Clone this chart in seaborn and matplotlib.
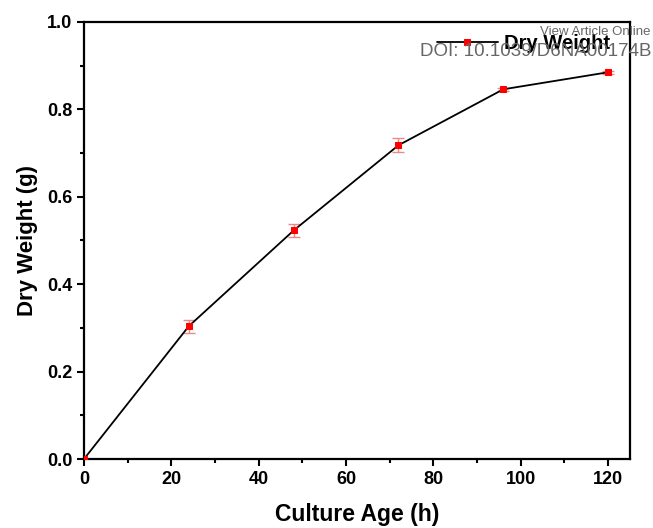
import matplotlib
matplotlib.use("Agg")
import matplotlib.pyplot as plt
import seaborn as sns
import pandas as pd
from matplotlib.ticker import MultipleLocator

culture_age = [0, 24, 48, 72, 96, 120]
dry_weight = [0.0, 0.304, 0.523, 0.718, 0.846, 0.885]
errors = [0.0, 0.015, 0.015, 0.016, 0.004, 0.004]

sns.set_theme(style="ticks")
plt.rcParams['font.family'] = ['Liberation Sans', 'DejaVu Sans']
plt.rcParams['font.weight'] = 'bold'
for k in ['text.color', 'axes.labelcolor', 'xtick.color', 'ytick.color', 'axes.edgecolor']:
    plt.rcParams[k] = 'black'

df = pd.DataFrame({"Culture Age (h)": culture_age, "Dry Weight": dry_weight})

fig = plt.figure(figsize=(6.53, 5.28), dpi=100)
ax = fig.add_axes([84/653, 1-459/528, (630-84)/653, (459-22)/528])

ax.errorbar(culture_age, dry_weight, yerr=errors, fmt='none', ecolor='#e88a8a',
            elinewidth=1, capsize=4, capthick=1, zorder=2)
sns.lineplot(data=df, x="Culture Age (h)", y="Dry Weight", ax=ax, color='black',
             linewidth=1.3, marker='s', markersize=4.5, markerfacecolor='red',
             markeredgecolor='red', label='Dry Weight', zorder=3)

ax.set_xlim(0, 125)
ax.set_ylim(0, 1.0)
ax.xaxis.set_major_locator(MultipleLocator(20))
ax.xaxis.set_minor_locator(MultipleLocator(10))
ax.yaxis.set_major_locator(MultipleLocator(0.2))
ax.yaxis.set_minor_locator(MultipleLocator(0.1))
ax.yaxis.set_major_formatter(matplotlib.ticker.FormatStrFormatter('%.1f'))
ax.tick_params(which='major', direction='out', length=5, width=1.5, labelsize=13,
               colors='black')
ax.tick_params(which='minor', direction='out', length=3, width=1.5, colors='black')
for lab in ax.get_xticklabels() + ax.get_yticklabels():
    lab.set_fontweight('bold')
for s in ax.spines.values():
    s.set_linewidth(1.6)
    s.set_color('black')

ax.set_xlabel("Culture Age (h)", fontsize=16.5, fontweight='bold', labelpad=11)
ax.set_ylabel("Dry Weight (g)", fontsize=16, fontweight='bold', labelpad=6)

leg = ax.legend(loc='upper right', frameon=False, fontsize=14.5, handlelength=3,
                handletextpad=0.3, bbox_to_anchor=(0.985, 1.0), borderaxespad=0.2)
for t in leg.get_texts():
    t.set_fontweight('bold')

fig.text(651/653, 1-32/528, "View Article Online", ha='right', va='center',
         fontsize=9.5, color='#666666', fontweight='normal')
fig.text(651/653, 1-51/528, "DOI: 10.1039/D6NA00174B", ha='right', va='center',
         fontsize=13.5, color='#666666', fontweight='normal')

fig.savefig("out.png", dpi=100)
